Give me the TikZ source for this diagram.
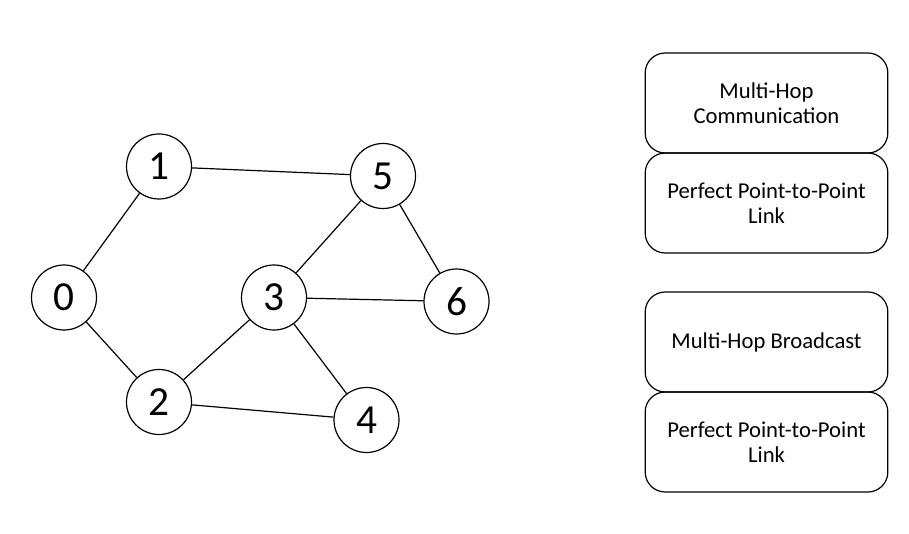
\documentclass[tikz,border=0pt]{standalone}
\usepackage{fontspec}
\setmainfont{Carlito}
\begin{document}
\begin{tikzpicture}[x=0.75pt,y=-0.75pt,
  vertex/.style={circle,draw,line width=0.9pt,minimum size=48.75pt,inner sep=0pt,
    font=\fontsize{31}{31}\selectfont},
  edge/.style={line width=0.9pt},
  layerbox/.style={draw,line width=0.9pt,rounded corners=15pt,minimum width=182pt,
    minimum height=75pt,align=center,inner sep=0pt,
    font=\fontsize{17}{19}\selectfont}]
\useasboundingbox (0,0) rectangle (909,534);
% graph vertices
\node[vertex] (n0) at (64,297.5) {0};
\node[vertex] (n1) at (159,166.5) {1};
\node[vertex] (n2) at (159,402) {2};
\node[vertex] (n3) at (274,297.5) {3};
\node[vertex] (n4) at (366.5,420) {4};
\node[vertex] (n5) at (383,176) {5};
\node[vertex] (n6) at (456.5,301.5) {6};
% graph edges
\draw[edge] (n0) -- (n1);
\draw[edge] (n0) -- (n2);
\draw[edge] (n1) -- (n5);
\draw[edge] (n5) -- (n3);
\draw[edge] (n5) -- (n6);
\draw[edge] (n3) -- (n6);
\draw[edge] (n3) -- (n2);
\draw[edge] (n3) -- (n4);
\draw[edge] (n2) -- (n4);
% protocol stacks
\node[layerbox] (mhc) at (766.5,103) {Multi-Hop\\Communication};
\node[layerbox] (pl1) at (766.5,203) {Perfect Point-to-Point\\Link};
\node[layerbox] (mhb) at (766.5,342) {Multi-Hop Broadcast};
\node[layerbox] (pl2) at (766.5,442) {Perfect Point-to-Point\\Link};
\end{tikzpicture}
\end{document}
